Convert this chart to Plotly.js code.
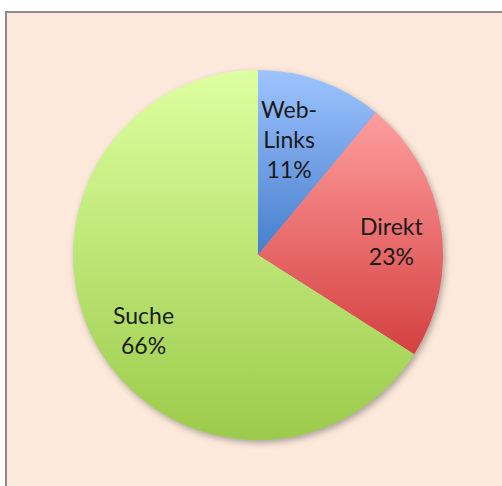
<!DOCTYPE html>
<html><head><meta charset="utf-8">
<script src="https://cdn.plot.ly/plotly-3.0.1.min.js"></script>
<style>
html,body{margin:0;padding:0;background:#fff;width:502px;height:486px;overflow:hidden;}
#panel{position:absolute;left:5px;top:11px;width:520px;height:500px;background:#FCE9DC;border-left:2px solid #8c8c8c;border-top:2px solid #8c8c8c;}
#chart{position:absolute;left:0;top:0;width:502px;height:486px;}
</style></head>
<body>
<div id="panel"></div>
<div id="chart"></div>
<script>
const categories = ["Web-<br>Links", "Direkt", "Suche"];
const values = [11, 23, 66];
const colors = ["#78A6EA", "#EE7676", "#BDE06E"];
const gradTop = ["#9EC4FF", "#FF9E9E", "#DEFFA0"];
const gradBottom = ["#467DCB", "#D44040", "#9BCB4B"];

// label anchor positions (paper fractions), layout only
const labelX = [289/502, 392/502, 143/502];
const labelY = [(486-139)/486, (486-241)/486, (486-330)/486];

const total = values.reduce(function(a, b){ return a + b; }, 0);

const trace = {
  type: "pie",
  labels: categories,
  values: values,
  sort: false,
  direction: "clockwise",
  rotation: 0,
  marker: {colors: colors, line: {width: 0}},
  textinfo: "none",
  hoverinfo: "none",
  showlegend: false,
  domain: {x: [73/502, 443/502], y: [46/486, 416/486]}
};
const annotations = categories.map(function(c, i){
  return {
    xref: "paper", yref: "paper",
    x: labelX[i], y: labelY[i],
    xanchor: "center", yanchor: "middle",
    showarrow: false, align: "center",
    text: c + "<br>" + Math.round(values[i] / total * 100) + "%",
    font: {family: "Lato, 'Open Sans', sans-serif", size: 23, color: "#1a1a1a"}
  };
});
const layout = {
  width: 502, height: 486,
  margin: {l: 0, r: 0, t: 0, b: 0},
  paper_bgcolor: "rgba(0,0,0,0)",
  plot_bgcolor: "rgba(0,0,0,0)",
  showlegend: false,
  annotations: annotations
};
Plotly.newPlot("chart", [trace], layout, {staticPlot: true}).then(function(gd){
  const svg = gd.querySelector("svg.main-svg");
  const ns = "http://www.w3.org/2000/svg";
  let defs = svg.querySelector("defs");
  if (!defs) { defs = document.createElementNS(ns, "defs"); svg.insertBefore(defs, svg.firstChild); }
  gradTop.forEach(function(c, i){
    const g = document.createElementNS(ns, "linearGradient");
    g.setAttribute("id", "sliceGrad" + i);
    g.setAttribute("x1", "0"); g.setAttribute("y1", "0");
    g.setAttribute("x2", "0"); g.setAttribute("y2", "1");
    const s1 = document.createElementNS(ns, "stop");
    s1.setAttribute("offset", "0"); s1.setAttribute("stop-color", c);
    const s2 = document.createElementNS(ns, "stop");
    s2.setAttribute("offset", "1"); s2.setAttribute("stop-color", gradBottom[i]);
    g.appendChild(s1); g.appendChild(s2); defs.appendChild(g);
  });
  const paths = gd.querySelectorAll(".slice path.surface");
  paths.forEach(function(p, i){ p.style.fill = "url(#sliceGrad" + i + ")"; });
  const pl = gd.querySelector(".pielayer");
  if (pl) pl.style.filter = "drop-shadow(2px 3px 3px rgba(0,0,0,0.3))";
});
</script>
</body></html>
